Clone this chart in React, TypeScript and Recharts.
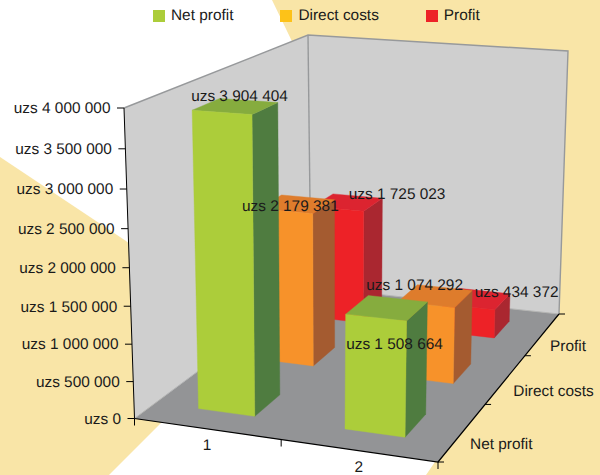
import React from "react";
import { BarChart, Bar, XAxis, YAxis, Legend, LabelList, Customized } from "recharts";

const categories = ["1", "2"];
const netProfit = [3904404, 1508664];
const directCosts = [2179381, 1074292];
const profit = [1725023, 434372];
const valueTicks = [0, 500000, 1000000, 1500000, 2000000, 2500000, 3000000, 3500000, 4000000];
const depthLabels = ["Net profit", "Direct costs", "Profit"];

const rows = categories.map((category, i) => ({
  category,
  netProfit: netProfit[i],
  directCosts: directCosts[i],
  profit: profit[i],
}));

const W = 600;
const H = 475;
const PLOT_TOP = 108;
const PLOT_H = 310;
const Y_MAX = 4000000;
const FONT = "'Liberation Sans', Arial, sans-serif";
const FONT_SIZE = 15.4;
const TEXT = "#1a1a1a";
const textStyle = { textRendering: "geometricPrecision" } as React.CSSProperties;

type Pt = [number, number];
// Box corners: front-left, front-right, back-right, back-left
const floorQuad: Pt[] = [[134.5, 418.5], [438, 462], [559, 314], [311, 287]];
const topQuad: Pt[] = [[124, 108], [443, 131], [568, 51], [308, 35]];
const HEIGHT_PERSPECTIVE = 0.944;

function quad(q: Pt[], u: number, v: number): Pt {
  const [[x0, y0], [x1, y1], [x2, y2], [x3, y3]] = q;
  const dx1 = x1 - x2, dx2 = x3 - x2, sx = x0 - x1 + x2 - x3;
  const dy1 = y1 - y2, dy2 = y3 - y2, sy = y0 - y1 + y2 - y3;
  const den = dx1 * dy2 - dx2 * dy1;
  const g = (sx * dy2 - dx2 * sy) / den;
  const h = (dx1 * sy - sx * dy1) / den;
  const a = x1 - x0 + g * x1, b = x3 - x0 + h * x3;
  const d = y1 - y0 + g * y1, e = y3 - y0 + h * y3;
  const k = g * u + h * v + 1;
  return [(a * u + b * v + x0) / k, (d * u + e * v + y0) / k];
}

function project(u: number, v: number, w: number): Pt {
  const p0 = quad(floorQuad, u, v);
  const p1 = quad(topQuad, u, v);
  const s = w * HEIGHT_PERSPECTIVE;
  const t = s / (s + 1 - w);
  return [p0[0] + (p1[0] - p0[0]) * t, p0[1] + (p1[1] - p0[1]) * t];
}

const pts = (list: Pt[]) => list.map((p) => `${p[0].toFixed(2)},${p[1].toFixed(2)}`).join(" ");

const BAR_HALF_U = 0.098;
const BAR_HALF_V = 0.068;
const uCenter = (index: number) => 0.25 + 0.5 * index;
const vCenter = (depth: number) => (depth + 0.5) / 3;

type Faces = { front: string; top: string; side: string };
const greenFaces: Faces = { front: "#ACCD3A", top: "#86AC3E", side: "#4F7C40" };
const orangeFaces: Faces = { front: "#F7922A", top: "#DE7C2C", side: "#A45B30" };
const redFaces: Faces = { front: "#ED2227", top: "#DC2430", side: "#AA2730" };

const makeBarShape = (depth: number, faces: Faces) => (props: any) => {
  const w = props.height / PLOT_H;
  const uc = uCenter(props.index);
  const vc = vCenter(depth);
  const u0 = uc - BAR_HALF_U, u1 = uc + BAR_HALF_U;
  const v0 = vc - BAR_HALF_V, v1 = vc + BAR_HALF_V;
  const fl0 = project(u0, v0, 0), fr0 = project(u1, v0, 0), br0 = project(u1, v1, 0);
  const fl1 = project(u0, v0, w), fr1 = project(u1, v0, w), br1 = project(u1, v1, w), bl1 = project(u0, v1, w);
  return (
    <g>
      <polygon points={pts([fr0, br0, br1, fr1])} fill={faces.side} stroke={faces.side} strokeWidth={0.4} />
      <polygon points={pts([fl1, fr1, br1, bl1])} fill={faces.top} stroke={faces.top} strokeWidth={0.4} />
      <polygon points={pts([fl0, fr0, fr1, fl1])} fill={faces.front} stroke={faces.front} strokeWidth={0.4} />
    </g>
  );
};

const formatUzs = (n: number) => "uzs " + String(n).replace(/\B(?=(\d{3})+(?!\d))/g, " ");

// Label offsets from the centre of each bar's top face
const netOffsets: Pt[] = [[4, -11], [7.5, 36]];
const directOffsets: Pt[] = [[-6.5, 2], [-21, -11]];
const profitOffsets: Pt[] = [[49, -9], [40, -7]];

const makeLabel = (depth: number, offsets: Pt[]) => (props: any) => {
  const index = props.index as number;
  const value = Number(props.value);
  const c = project(uCenter(index), vCenter(depth), value / Y_MAX);
  return (
    <text
      x={c[0] + offsets[index][0]}
      y={c[1] + offsets[index][1] + 5.3}
      textAnchor="middle"
      fontFamily={FONT}
      fontSize={FONT_SIZE}
      fill={TEXT}
      style={textStyle}
    >
      {formatUzs(value)}
    </text>
  );
};

const emptyShape = () => <g />;

const YTick = (props: any) => {
  const w = (PLOT_TOP + PLOT_H - props.y) / PLOT_H;
  const p = project(0, 0, w);
  return (
    <g>
      <line x1={p[0] - 7} x2={p[0]} y1={p[1]} y2={p[1]} stroke="#000" strokeWidth={1} />
      <text x={p[0] - 13.5} y={p[1] + 5.3} textAnchor="end" fontFamily={FONT} fontSize={FONT_SIZE} fill={TEXT} style={textStyle}>
        {formatUzs(props.payload.value)}
      </text>
    </g>
  );
};

const XTick = (props: any) => {
  const p = project(uCenter(props.index), 0, 0);
  return (
    <text x={p[0] + 0.5} y={p[1] + 21.5} textAnchor="middle" fontFamily={FONT} fontSize={FONT_SIZE} fill={TEXT} style={textStyle}>
      {props.payload.value}
    </text>
  );
};

const PALE = "#F9E5A7";
const WALL = "#CFCFCF";
const FLOOR = "#939496";
const EDGE = "#97999B";

const Backdrop = () => {
  const [fl0, fr0, br0, bl0] = floorQuad;
  const [fl1, , br1, bl1] = topQuad;
  const frontTicks = [0, 0.5, 1];
  const depthTicks = [0, 1 / 3, 2 / 3, 1];
  return (
    <g>
      <polygon points="272,0 600,0 600,475 426,475 446,446 330,120" fill={PALE} />
      <polygon points="0,157 126,241 175,280 162,422 109,475 0,475" fill={PALE} />
      <polygon points={pts([fl0, bl0, bl1, fl1])} fill={WALL} />
      <polygon points={pts([bl0, br0, br1, bl1])} fill={WALL} />
      <polygon points={pts([fl0, fr0, br0, bl0])} fill={FLOOR} />
      <polyline points={pts([fl1, bl1, br1, br0])} fill="none" stroke={EDGE} strokeWidth={1.4} />
      <line x1={bl0[0]} y1={bl0[1]} x2={bl1[0]} y2={bl1[1]} stroke={EDGE} strokeWidth={1.4} />
      <line x1={bl0[0]} y1={bl0[1]} x2={br0[0]} y2={br0[1]} stroke="#B4B5B6" strokeWidth={1} />
      <line x1={bl0[0]} y1={bl0[1]} x2={fl0[0]} y2={fl0[1]} stroke="#B4B5B6" strokeWidth={1} />
      <line x1={fl1[0]} y1={fl1[1]} x2={fl0[0]} y2={fl0[1]} stroke="#000" strokeWidth={1} />
      <polyline points={pts([fl0, fr0, br0])} fill="none" stroke="#000" strokeWidth={1.2} />
      {frontTicks.map((u) => {
        const p = quad(floorQuad, u, 0);
        return <line key={u} x1={p[0]} y1={p[1]} x2={p[0]} y2={p[1] + 7} stroke="#000" strokeWidth={1} />;
      })}
      {depthTicks.map((v) => {
        const p = quad(floorQuad, 1, v);
        return <line key={v} x1={p[0]} y1={p[1]} x2={p[0] + 6} y2={p[1]} stroke="#000" strokeWidth={1} />;
      })}
      {depthLabels.map((label, i) => {
        const p = quad(floorQuad, 1, vCenter(i));
        return (
          <text key={label} x={p[0] + 7.5} y={p[1] + 17.3} fontFamily={FONT} fontSize={FONT_SIZE} fill={TEXT} style={textStyle}>
            {label}
          </text>
        );
      })}
    </g>
  );
};

const legendOrder = ["Net profit", "Direct costs", "Profit"];

const LegendContent = (props: any) => {
  const items = legendOrder.map((n) => (props.payload || []).find((p: any) => p.value === n)).filter(Boolean);
  return (
    <div style={{ position: "absolute", left: 153, top: 7, display: "flex", gap: 47, fontFamily: FONT, fontSize: FONT_SIZE, color: TEXT, whiteSpace: "nowrap", lineHeight: "18px", textRendering: "geometricPrecision" }}>
      {items.map((it: any) => (
        <div key={it.value} style={{ display: "flex", alignItems: "center", gap: 6 }}>
          <span style={{ display: "inline-block", width: 12, height: 12, background: it.color }} />
          <span>{it.value}</span>
        </div>
      ))}
    </div>
  );
};

export default function App() {
  return (
    <div style={{ position: "absolute", left: 0, top: 0, width: W, height: H, background: "#fff", overflow: "hidden" }}>
      <BarChart
        width={W}
        height={H}
        data={rows}
        margin={{ top: PLOT_TOP, right: 0, bottom: 27, left: 0 }}
        barGap={0}
      >
        <Customized component={Backdrop} />
        <XAxis dataKey="category" height={30} axisLine={false} tickLine={false} interval={0} tick={XTick} />
        <YAxis
          type="number"
          width={127}
          domain={[0, Y_MAX]}
          ticks={valueTicks}
          interval={0}
          axisLine={false}
          tickLine={false}
          tick={YTick}
        />
        <Legend
          layout="horizontal"
          verticalAlign="middle"
          align="center"
          wrapperStyle={{ top: 0, left: 0, width: W, height: 0 }}
          content={LegendContent}
        />
        <Bar dataKey="profit" name="Profit" fill="#ED2227" isAnimationActive={false} shape={makeBarShape(2, redFaces)} />
        <Bar dataKey="directCosts" name="Direct costs" fill="#FDC218" isAnimationActive={false} shape={makeBarShape(1, orangeFaces)} />
        <Bar dataKey="netProfit" name="Net profit" fill="#ACCD3A" isAnimationActive={false} shape={makeBarShape(0, greenFaces)} />
        <Bar dataKey="netProfit" legendType="none" isAnimationActive={false} shape={emptyShape}>
          <LabelList dataKey="netProfit" content={makeLabel(0, netOffsets)} />
        </Bar>
        <Bar dataKey="directCosts" legendType="none" isAnimationActive={false} shape={emptyShape}>
          <LabelList dataKey="directCosts" content={makeLabel(1, directOffsets)} />
        </Bar>
        <Bar dataKey="profit" legendType="none" isAnimationActive={false} shape={emptyShape}>
          <LabelList dataKey="profit" content={makeLabel(2, profitOffsets)} />
        </Bar>
      </BarChart>
    </div>
  );
}
